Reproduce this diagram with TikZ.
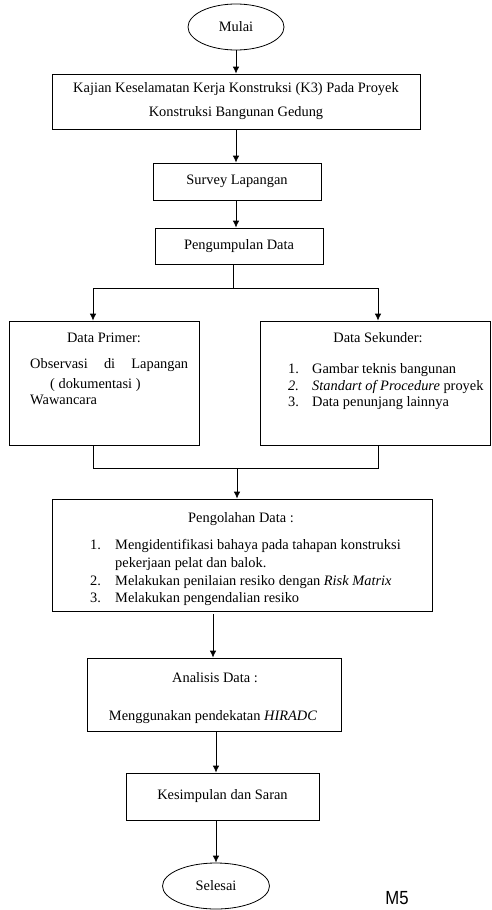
\documentclass[tikz,border=0pt]{standalone}
\usepackage{fontspec}
\setmainfont{Liberation Serif}
\setsansfont{Liberation Sans}
\usetikzlibrary{shapes.geometric, positioning, calc, arrows.meta}

\begin{document}
\begin{tikzpicture}[x=1pt, y=-1pt,
  every node/.style={font=\fontsize{14.4}{17}\selectfont},
  kotak/.style={draw, line width=0.8pt, inner sep=0pt},
  oval/.style={draw, ellipse, line width=0.8pt, inner sep=0pt},
  garis/.style={line width=0.8pt},
  panah/.style={garis, ->, >={Latex[length=7pt, width=6.5pt]}},
  teks/.style={inner sep=0pt, anchor=base west},
  teksc/.style={inner sep=0pt, anchor=base}]
\useasboundingbox (0,0) rectangle (491,910);

% --- BAGIAN 1: Mulai sampai Pengumpulan Data ---
\node[oval, minimum width=96pt, minimum height=46pt] (mulai) at (236,27) {Mulai};
\node[kotak, minimum width=368pt, minimum height=55pt, align=center] (kajian) at (236,101.5)
  {Kajian Keselamatan Kerja Konstruksi (K3) Pada Proyek\\[7pt]Konstruksi Bangunan Gedung};
\node[kotak, minimum width=168pt, minimum height=37pt] (survey) at (237,181.5) {Survey Lapangan};
\node[kotak, minimum width=168pt, minimum height=36pt] (kumpul) at (239,246) {Pengumpulan Data};

\draw[panah] (mulai) -- (kajian);
\draw[panah] (kajian.south -| mulai) -- (survey.north -| mulai);
\draw[panah] (survey.south -| mulai) -- (kumpul.north -| mulai);

% --- BAGIAN 2: Data Primer dan Data Sekunder ---
\node[kotak, minimum width=190pt, minimum height=124pt] (primer) at (104,383) {};
\node[kotak, minimum width=230pt, minimum height=124pt] (sekunder) at (375,383) {};

\coordinate (cabang) at (233,288);
\coordinate (kiri) at (93,288);
\coordinate (kanan) at (378,288);
\draw[garis] (kumpul.south -| cabang) -- (cabang);
\draw[garis] (kiri) -- (kanan);
\draw[panah] (kiri) -- (kiri |- primer.north);
\draw[panah] (kanan) -- (kanan |- sekunder.north);

\node[teksc] (judulprimer) at (104,342) {Data Primer:};
\node[teks] (obs) at (30,368) {\makebox[158pt][s]{Observasi di Lapangan}};
\node[teks] (dok) at (50,388) {( dokumentasi )};
\node[teks] (waw) at (30,404) {Wawancara};

\node[teksc] (judulsekunder) at (378,342) {Data Sekunder:};
\node[teks] (n1) at (288,373) {1.};
\node[teks] (s1) at (312,373) {Gambar teknis bangunan};
\node[teks] (n2) at (288,390) {\textit{2.}};
\node[teks] (s2) at (312,390) {\textit{Standart of Procedure} proyek};
\node[teks] (n3) at (288,406) {3.};
\node[teks] (s3) at (312,406) {Data penunjang lainnya};

% --- BAGIAN 3: Pengolahan Data ---
\node[kotak, minimum width=380pt, minimum height=112pt] (olah) at (242,555) {};

\coordinate (gabkiri) at (93,468);
\coordinate (gabkanan) at (378,468);
\coordinate (gabung) at (237,468);
\draw[garis] (kiri |- primer.south) -- (gabkiri) -- (gabkanan) -- (kanan |- sekunder.south);
\draw[panah] (gabung) -- (gabung |- olah.north);

\node[teksc] (judulolah) at (241,522) {Pengolahan Data :};
\node[teks] (m1) at (90,549) {1.};
\node[teks] (o1) at (115,549) {Mengidentifikasi bahaya pada tahapan konstruksi};
\node[teks] (o1b) at (115,567) {pekerjaan pelat dan balok.};
\node[teks] (m2) at (90,585) {2.};
\node[teks] (o2) at (115,585) {Melakukan penilaian resiko dengan \textit{Risk Matrix}};
\node[teks] (m3) at (90,602) {3.};
\node[teks] (o3) at (115,602) {Melakukan pengendalian resiko};

% --- BAGIAN 4: Analisis sampai Selesai ---
\node[kotak, minimum width=254pt, minimum height=73pt] (analisis) at (214,694.5) {};
\node[teksc] (judulanalisis) at (215,682) {Analisis Data :};
\node[teksc] (hiradc) at (213,720) {Menggunakan pendekatan \textit{HIRADC}};
\node[kotak, minimum width=193pt, minimum height=47pt] (simpul) at (222.5,796.5) {Kesimpulan dan Saran};
\node[oval, minimum width=107pt, minimum height=46pt] (selesai) at (216,886) {Selesai};

\draw[panah, shorten <=3pt] (olah.south -| 213,0) -- (analisis.north -| 213,0);
\draw[panah] (analisis.south -| selesai) -- (simpul.north -| selesai);
\draw[panah] (simpul.south -| selesai) -- (selesai);

\node[inner sep=0pt, font=\sffamily\fontsize{19}{19}\selectfont, xscale=0.88] (kode) at (397,898) {M5};
\end{tikzpicture}
\end{document}
